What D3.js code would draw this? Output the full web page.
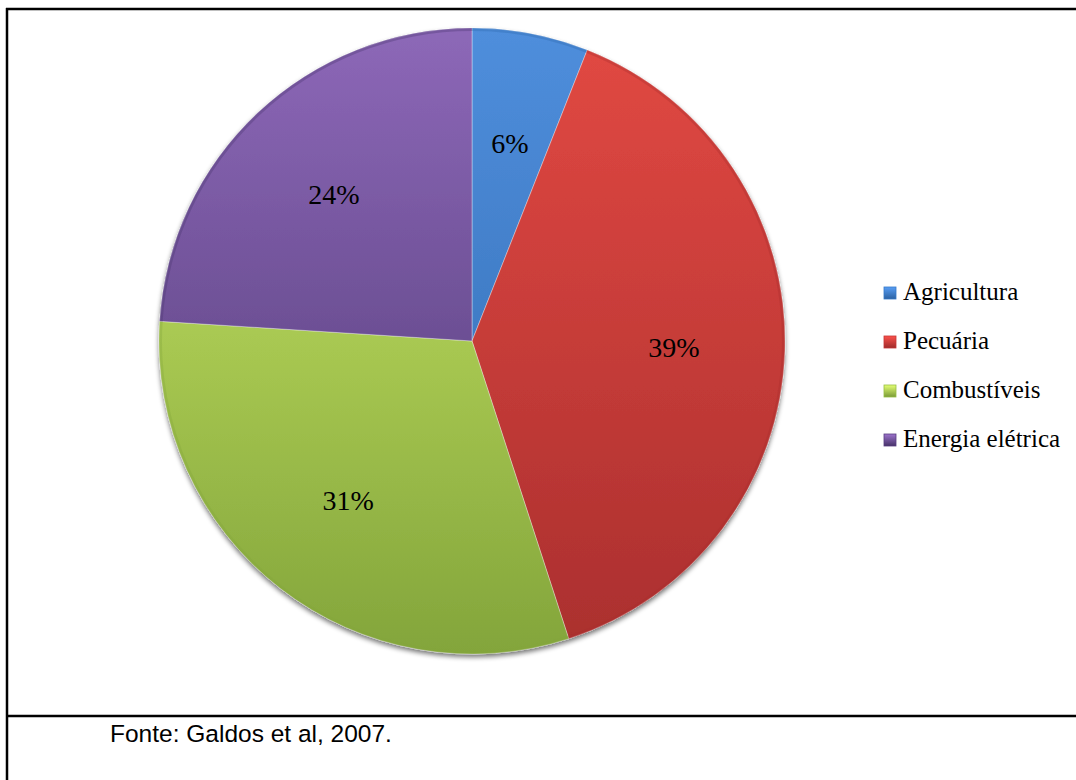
<!DOCTYPE html>
<html>
<head>
<meta charset="utf-8">
<script src="https://cdn.jsdelivr.net/npm/d3@7"></script>
<style>
  html, body { margin: 0; padding: 0; background: #fff; }
  svg { display: block; }
</style>
</head>
<body>
<svg id="chart" width="1076" height="780"></svg>
<script>
// Emissions share by source
const categories = ["Agricultura", "Pecuária", "Combustíveis", "Energia elétrica"];
const shares = [6, 39, 31, 24];
const labels = ["6%", "39%", "31%", "24%"];
const sourceNote = "Fonte: Galdos et al, 2007.";

// top / bottom tones for each slice's vertical shading
const topColors = ["#4F8EDC", "#E24943", "#CDEB68", "#8D68B8"];
const bottomColors = ["#2F69AE", "#AA2F2E", "#83A53B", "#4B3670"];

const W = 1076, H = 780;
const cx = 472, cy = 341, R = 313;

const svg = d3.select("#chart");
const defs = svg.append("defs");

// soft shadow under the pie
const shadow = defs.append("filter").attr("id", "pieShadow")
  .attr("x", "-10%").attr("y", "-10%").attr("width", "120%").attr("height", "125%");
shadow.append("feGaussianBlur").attr("in", "SourceAlpha").attr("stdDeviation", 2.5).attr("result", "b");
shadow.append("feOffset").attr("in", "b").attr("dx", 0).attr("dy", 3).attr("result", "o");
shadow.append("feComponentTransfer").attr("in", "o").attr("result", "s")
  .append("feFuncA").attr("type", "linear").attr("slope", 0.55);
const merge = shadow.append("feMerge");
merge.append("feMergeNode").attr("in", "s");
merge.append("feMergeNode").attr("in", "SourceGraphic");

categories.forEach((c, i) => {
  // gradient runs top-to-bottom across the whole pie (pie group coordinates)
  const g = defs.append("linearGradient").attr("id", "grad" + i)
    .attr("gradientUnits", "userSpaceOnUse")
    .attr("x1", 0).attr("y1", -R).attr("x2", 0).attr("y2", R);
  g.append("stop").attr("offset", 0).attr("stop-color", topColors[i]);
  g.append("stop").attr("offset", 1).attr("stop-color", bottomColors[i]);

  const lg = defs.append("linearGradient").attr("id", "lgrad" + i)
    .attr("x1", 0).attr("y1", 0).attr("x2", 0).attr("y2", 1);
  lg.append("stop").attr("offset", 0).attr("stop-color", d3.color(topColors[i]).brighter(0.3));
  lg.append("stop").attr("offset", 1).attr("stop-color", d3.color(bottomColors[i]).darker(0.2));
});

// frame
const frame = svg.append("g").attr("stroke", "#000").attr("stroke-width", 2.5).attr("fill", "none");
frame.append("line").attr("x1", 7).attr("x2", 7).attr("y1", 8).attr("y2", H);
frame.append("line").attr("x1", 6).attr("x2", W).attr("y1", 9).attr("y2", 9);
frame.append("line").attr("x1", 6).attr("x2", W).attr("y1", 716).attr("y2", 716);

// pie
const pie = d3.pie().sort(null).value(d => d.value);
const data = categories.map((c, i) => ({ name: c, value: shares[i], label: labels[i], i }));
const arcs = pie(data);

const arc = d3.arc().innerRadius(0).outerRadius(R);
const labelArc = d3.arc().innerRadius(R * 0.645).outerRadius(R * 0.645);

const pg = svg.append("g").attr("transform", `translate(${cx},${cy})`);
const slices = pg.append("g").attr("filter", "url(#pieShadow)");

slices.selectAll("path.slice")
  .data(arcs)
  .join("path")
  .attr("class", "slice")
  .attr("d", arc)
  .attr("fill", d => `url(#grad${d.data.i})`)
  .attr("stroke", "rgba(255,255,255,0.35)")
  .attr("stroke-width", 1);

// thin bevel shade along the rim
pg.append("g").selectAll("path.rim")
  .data(arcs)
  .join("path")
  .attr("class", "rim")
  .attr("d", d3.arc().innerRadius(R - 3).outerRadius(R))
  .attr("fill", d => d3.color(bottomColors[d.data.i]).copy({ opacity: 0.35 }));

// percentage labels
pg.selectAll("text.pct")
  .data(arcs)
  .join("text")
  .attr("class", "pct")
  .attr("transform", d => {
    const [x, y] = labelArc.centroid(d);
    return `translate(${x},${y})`;
  })
  .attr("text-anchor", "middle")
  .attr("dy", "0.35em")
  .attr("font-family", "'Liberation Serif', 'Times New Roman', serif")
  .attr("font-size", 28)
  .attr("fill", "#000")
  .text(d => d.data.label);

// legend
const legend = svg.append("g").attr("transform", "translate(884,300)");
const item = legend.selectAll("g.item")
  .data(data)
  .join("g")
  .attr("class", "item")
  .attr("transform", (d, i) => `translate(0,${i * 49})`);

item.append("rect")
  .attr("x", 0).attr("y", -13)
  .attr("width", 12).attr("height", 12)
  .attr("fill", d => `url(#lgrad${d.i})`)
  .attr("stroke", d => d3.color(bottomColors[d.i]).brighter(0.4))
  .attr("stroke-width", 0.8);

item.append("text")
  .attr("x", 19).attr("y", 0)
  .attr("font-family", "'Liberation Serif', 'Times New Roman', serif")
  .attr("font-size", 25)
  .attr("fill", "#000")
  .text(d => d.name);

// source note
svg.append("text")
  .attr("x", 110).attr("y", 742)
  .attr("font-family", "'Liberation Sans', Arial, sans-serif")
  .attr("font-size", 24.5)
  .attr("fill", "#000")
  .text(sourceNote);
</script>
</body>
</html>
